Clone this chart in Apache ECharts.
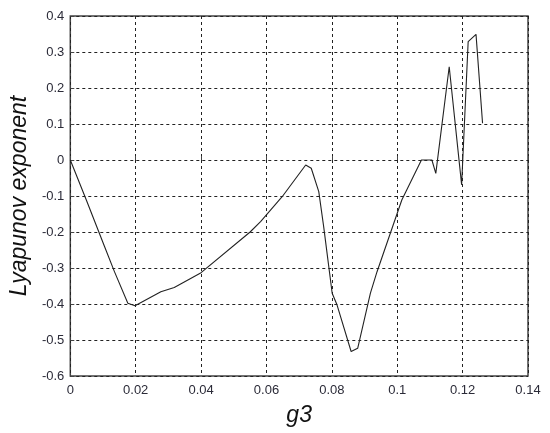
<!DOCTYPE html>
<html>
<head>
<meta charset="utf-8">
<script src="https://cdn.jsdelivr.net/npm/echarts@6/dist/echarts.min.js"></script>
<style>
  html, body { margin: 0; padding: 0; background: #fff; }
  #chart { width: 550px; height: 433px; }
</style>
</head>
<body>
<div id="chart"></div>
<script>
// g3 values (x) and Lyapunov exponent (y)
const g3Values = [
  0, 0.0049, 0.0105, 0.0135, 0.0176, 0.0198, 0.0277, 0.0318, 0.04, 0.055,
  0.0582, 0.0648, 0.072, 0.0737, 0.076, 0.0775, 0.0801, 0.0816, 0.0859, 0.0879,
  0.0918, 0.0938, 0.1014, 0.1074, 0.1106, 0.1118, 0.1159, 0.1197, 0.1217, 0.1241,
  0.1261
]
const lyapValues = [
  0, -0.111, -0.241, -0.31, -0.398, -0.405, -0.366, -0.354, -0.313, -0.2,
  -0.171, -0.102, -0.014, -0.023, -0.088, -0.185, -0.37, -0.403, -0.532, -0.523,
  -0.37, -0.311, -0.111, 0.0, 0.0, -0.037, 0.259, -0.069, 0.329, 0.349,
  0.102
]
const xTicks = ['0', '0.02', '0.04', '0.06', '0.08', '0.1', '0.12', '0.14']
const yTicks = ['-0.6', '-0.5', '-0.4', '-0.3', '-0.2', '-0.1', '0', '0.1', '0.2', '0.3', '0.4']

const chart = echarts.init(document.getElementById('chart'))

const labelStyle = {
  color: '#2b2b38',
  fontFamily: 'Liberation Sans, Arial, sans-serif',
  fontSize: 13
}
const titleStyle = {
  fontFamily: 'Liberation Sans, Arial, sans-serif',
  fontSize: 23,
  fontStyle: 'italic',
  color: '#111'
}
const gridLine = { lineStyle: { color: '#222', type: [3, 3], width: 1 } }

chart.setOption({
  animation: false,
  backgroundColor: '#fff',
  grid: { left: 69, right: 22, top: 16, bottom: 57, show: true, borderColor: '#444', borderWidth: 1.5, containLabel: false },
  xAxis: {
    type: 'value',
    min: 0, max: 0.14, interval: 0.02,
    name: 'g3',
    nameLocation: 'middle',
    nameGap: 28,
    nameTextStyle: titleStyle,
    axisLine: { show: false },
    axisTick: { show: true, inside: true, length: 4, lineStyle: { color: '#444' } },
    axisLabel: Object.assign({ margin: 8, formatter: (v) => xTicks[Math.round(v / 0.02)] }, labelStyle),
    splitLine: gridLine
  },
  yAxis: {
    type: 'value',
    min: -0.6, max: 0.4, interval: 0.1,
    name: 'Lyapunov exponent',
    nameLocation: 'middle',
    nameGap: 32,
    nameRotate: 90,
    nameTextStyle: titleStyle,
    axisLine: { show: false },
    axisTick: { show: true, inside: true, length: 4, lineStyle: { color: '#444' } },
    axisLabel: Object.assign({ margin: 6, formatter: (v) => yTicks[Math.round((v + 0.6) / 0.1)] }, labelStyle),
    splitLine: gridLine
  },
  series: [{
    type: 'line',
    data: g3Values.map((x, i) => [x, lyapValues[i]]),
    showSymbol: false,
    lineStyle: { color: '#222', width: 1.1 }
  }]
})
</script>
</body>
</html>
